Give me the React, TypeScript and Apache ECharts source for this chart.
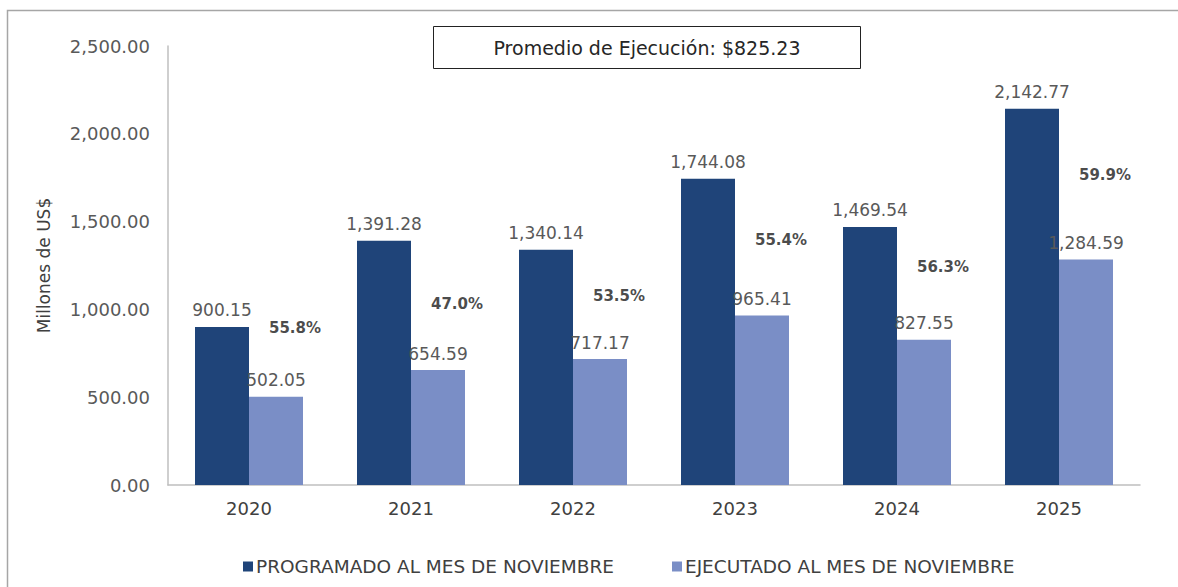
import React, { useEffect, useRef } from "react";
import * as echarts from "echarts";

const years = ["2020", "2021", "2022", "2023", "2024", "2025"];
const programado = [900.15, 1391.28, 1340.14, 1744.08, 1469.54, 2142.77];
const ejecutado = [502.05, 654.59, 717.17, 965.41, 827.55, 1284.59];
const pctLabels = ["55.8%", "47.0%", "53.5%", "55.4%", "56.3%", "59.9%"];
const pctLevel = [896, 1033, 1079, 1398, 1239, 1768];
const yTicks = [0, 500, 1000, 1500, 2000, 2500];
const titleText = "Promedio de Ejecución: $825.23";

const FONT = "'DejaVu Sans', Verdana, sans-serif";
const fmt = (v: number) =>
  v.toLocaleString("en-US", { minimumFractionDigits: 2, maximumFractionDigits: 2 });

export default function App() {
  const ref = useRef<HTMLDivElement>(null);
  useEffect(() => {
    if (!ref.current) return;
    const chart = echarts.init(ref.current, null, { renderer: "svg" });
    chart.setOption({
      animation: false,
      backgroundColor: "#ffffff",
      textStyle: { fontFamily: FONT },
      grid: { left: 168, right: 38, top: 46, bottom: 102, containLabel: false },
      graphic: [
        {
          type: "rect",
          left: 5,
          top: 8,
          shape: { width: 1200, height: 600 },
          style: { fill: "none", stroke: "#a6a6a6", lineWidth: 1.5 },
          silent: true,
          z: -1,
        },
        {
          type: "rect",
          left: 433,
          top: 26,
          shape: { width: 427, height: 42 },
          style: { fill: "#ffffff", stroke: "#222222", lineWidth: 1 },
        },
        {
          type: "text",
          x: 647,
          y: 48,
          style: {
            text: titleText,
            fontFamily: FONT,
            fontSize: 19,
            fill: "#262626",
            align: "center",
            verticalAlign: "middle",
          },
        },
      ],
      legend: {
        top: 552,
        left: 238,
        itemGap: 58,
        itemWidth: 10,
        itemHeight: 10,
        icon: "rect",
        textStyle: { fontFamily: FONT, fontSize: 18.5, color: "#404040", padding: [0, 0, 0, -2] },
        data: ["PROGRAMADO AL MES DE NOVIEMBRE", "EJECUTADO AL MES DE NOVIEMBRE"],
      },
      xAxis: {
        type: "category",
        data: years,
        axisLine: { show: true, lineStyle: { color: "#bfbfbf", width: 1.5 } },
        axisTick: { show: false },
        axisLabel: { fontFamily: FONT, fontSize: 18, color: "#404040", margin: 14 },
      },
      yAxis: {
        type: "value",
        min: 0,
        max: 2500,
        interval: 500,
        name: "Millones de US$",
        nameLocation: "middle",
        nameGap: 116,
        nameRotate: 90,
        nameTextStyle: { fontFamily: FONT, fontSize: 17, color: "#404040" },
        axisLine: { show: true, lineStyle: { color: "#bfbfbf", width: 1.5 } },
        axisTick: { show: false },
        splitLine: { show: false },
        axisLabel: {
          fontFamily: FONT,
          fontSize: 18,
          color: "#595959",
          margin: 18,
          formatter: (v: number) => (yTicks.includes(v) ? fmt(v) : ""),
        },
      },
      series: [
        {
          name: "PROGRAMADO AL MES DE NOVIEMBRE",
          type: "bar",
          data: programado,
          barWidth: 54,
          barGap: "0%",
          itemStyle: { color: "#1F4479" },
          label: {
            show: true,
            position: "top",
            distance: 8,
            fontFamily: FONT,
            fontSize: 17,
            color: "#595959",
            formatter: (p: any) => fmt(p.value),
          },
        },
        {
          name: "EJECUTADO AL MES DE NOVIEMBRE",
          type: "bar",
          data: ejecutado,
          barWidth: 54,
          barGap: "0%",
          itemStyle: { color: "#7A8EC6" },
          label: {
            show: true,
            position: "top",
            distance: 8,
            fontFamily: FONT,
            fontSize: 17,
            color: "#595959",
            formatter: (p: any) => fmt(p.value),
          },
        },
        {
          name: "pct",
          type: "scatter",
          data: years.map((y, i) => [y, pctLevel[i]]),
          symbolSize: 0,
          silent: true,
          label: {
            show: true,
            position: "inside",
            offset: [46, 0],
            fontFamily: FONT,
            fontSize: 15,
            fontWeight: "bold",
            color: "#1a1a1a",
            formatter: (p: any) => pctLabels[p.dataIndex],
          },
        },
      ],
    });
    return () => chart.dispose();
  }, []);
  return (
    <div
      ref={ref}
      style={{ position: "absolute", left: 0, top: 0, width: 1178, height: 587 }}
    />
  );
}
